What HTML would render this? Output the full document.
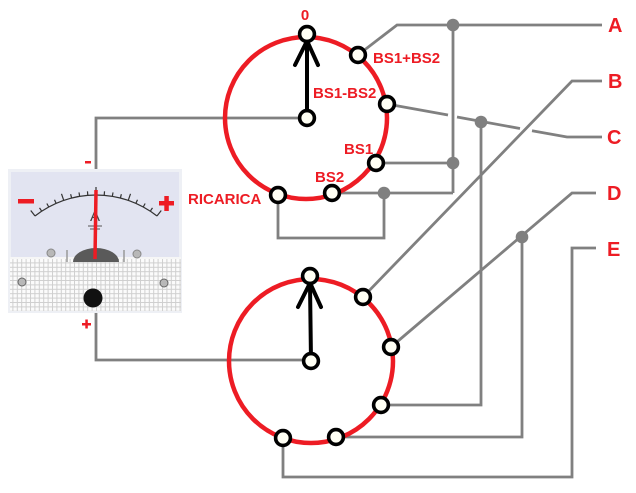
<!DOCTYPE html>
<html>
<head>
<meta charset="utf-8">
<style>
html,body{margin:0;padding:0;background:#fff;}
svg{display:block;}
.lbl{font-family:"Liberation Sans",sans-serif;font-weight:bold;fill:#ed1c24;}
</style>
</head>
<body>
<svg width="636" height="493" viewBox="0 0 636 493" xmlns="http://www.w3.org/2000/svg">
<defs>
<pattern id="grid" x="8" y="258" width="4.4" height="4.4" patternUnits="userSpaceOnUse">
<rect width="4.4" height="4.4" fill="#fbfbfb"/>
<path d="M0 0.5 H4.4 M0.5 0 V4.4" stroke="#cfcfcf" stroke-width="1"/>
</pattern>
</defs>
<rect width="636" height="493" fill="#fff"/>

<!-- wires -->
<g stroke="#808080" stroke-width="2.8" fill="none" stroke-linejoin="miter">
<polyline points="96,170 96,118 299,118"/>
<polyline points="96,312 96,360 303,360"/>
<polyline points="358,55 397,25 602,25"/>
<line x1="453" y1="25" x2="453" y2="193"/>
<line x1="376" y1="163" x2="453" y2="163"/>
<line x1="332" y1="193" x2="453" y2="193"/>
<polyline points="384,193 384,238 278,238 278,195"/>
<line x1="387" y1="104" x2="448" y2="115"/>
<line x1="457" y1="117" x2="520" y2="128.5"/>
<polyline points="532,130.8 567,137 602,137"/>
<polyline points="481,122 481,405 381,405"/>
<polyline points="363,297 572,81 602,81"/>
<polyline points="391,347 572,193 596,193"/>
<polyline points="522,237 522,437 336,437"/>
<polyline points="283,438 283,477 572,477 572,248 596,248"/>
</g>
<g fill="#808080">
<circle cx="453" cy="25" r="6.3"/>
<circle cx="453" cy="163" r="6.3"/>
<circle cx="384" cy="193" r="6.3"/>
<circle cx="481" cy="122" r="6.3"/>
<circle cx="522" cy="237" r="6.3"/>
</g>

<!-- meter -->
<g>
<rect x="8" y="169" width="174" height="144" fill="#eef0f5"/>
<rect x="11" y="172" width="168" height="86" fill="#e2e4f1"/>
<rect x="10" y="258" width="171" height="53" fill="url(#grid)"/>
<rect x="10" y="257" width="171" height="2" fill="#f6f6f6"/>
<path d="M35,216 A99,99 0 0 1 157,216" stroke="#333" stroke-width="1.2" fill="none"/>
<g stroke="#333" stroke-width="1.2">
<line x1="96" y1="195" x2="96" y2="188" transform="rotate(-38 96 294)"/>
<line x1="96" y1="195" x2="96" y2="191" transform="rotate(-33.25 96 294)"/>
<line x1="96" y1="195" x2="96" y2="191" transform="rotate(-28.5 96 294)"/>
<line x1="96" y1="195" x2="96" y2="191" transform="rotate(-23.75 96 294)"/>
<line x1="96" y1="195" x2="96" y2="188" transform="rotate(-19 96 294)"/>
<line x1="96" y1="195" x2="96" y2="191" transform="rotate(-14.25 96 294)"/>
<line x1="96" y1="195" x2="96" y2="191" transform="rotate(-9.5 96 294)"/>
<line x1="96" y1="195" x2="96" y2="191" transform="rotate(-4.75 96 294)"/>
<line x1="96" y1="195" x2="96" y2="187" transform="rotate(0 96 294)"/>
<line x1="96" y1="195" x2="96" y2="191" transform="rotate(4.75 96 294)"/>
<line x1="96" y1="195" x2="96" y2="191" transform="rotate(9.5 96 294)"/>
<line x1="96" y1="195" x2="96" y2="191" transform="rotate(14.25 96 294)"/>
<line x1="96" y1="195" x2="96" y2="188" transform="rotate(19 96 294)"/>
<line x1="96" y1="195" x2="96" y2="191" transform="rotate(23.75 96 294)"/>
<line x1="96" y1="195" x2="96" y2="191" transform="rotate(28.5 96 294)"/>
<line x1="96" y1="195" x2="96" y2="191" transform="rotate(33.25 96 294)"/>
<line x1="96" y1="195" x2="96" y2="188" transform="rotate(38 96 294)"/>
</g>
<text x="95" y="221" font-family="Liberation Sans,sans-serif" font-size="15" fill="#444" text-anchor="middle">A</text>
<line x1="88" y1="226" x2="102" y2="226" stroke="#555" stroke-width="1"/>
<line x1="90" y1="229" x2="100" y2="229" stroke="#555" stroke-width="1"/>
<path d="M73,262 A23,14 0 0 1 119,262 Z" fill="#5a5a5a"/>
<line x1="67" y1="250" x2="67" y2="262" stroke="#999" stroke-width="1.5"/>
<line x1="124" y1="250" x2="124" y2="262" stroke="#999" stroke-width="1.5"/>
<circle cx="51" cy="253" r="4" fill="#b8b8b8" stroke="#888" stroke-width="1"/>
<circle cx="137" cy="254" r="4" fill="#b8b8b8" stroke="#888" stroke-width="1"/>
<circle cx="22" cy="282" r="4" fill="#b8b8b8" stroke="#666" stroke-width="1"/>
<circle cx="164" cy="283" r="4" fill="#b8b8b8" stroke="#666" stroke-width="1"/>
<line x1="96" y1="190" x2="95" y2="259" stroke="#ed1c24" stroke-width="3.5"/>
<circle cx="93" cy="298" r="9.5" fill="#111"/>
<rect x="18" y="199" width="16" height="4.5" fill="#ed1c24"/>
<rect x="159" y="201" width="15" height="4.5" fill="#ed1c24"/>
<rect x="164.3" y="196" width="4.5" height="15" fill="#ed1c24"/>
</g>
<rect x="85" y="161" width="6" height="2.5" fill="#ed1c24"/>
<rect x="82" y="323" width="9" height="2.5" fill="#ed1c24"/>
<rect x="85.3" y="319.5" width="2.5" height="9" fill="#ed1c24"/>

<!-- top switch -->
<circle cx="306" cy="118" r="81" fill="none" stroke="#ed1c24" stroke-width="4.5"/>
<g stroke="#000" stroke-width="4" stroke-linecap="round" fill="none">
<line x1="307" y1="118" x2="307" y2="41"/>
<line x1="306" y1="43" x2="295" y2="65"/>
<line x1="308" y1="43" x2="318" y2="65"/>
</g>
<!-- bottom switch -->
<circle cx="311" cy="361" r="82" fill="none" stroke="#ed1c24" stroke-width="4.5"/>
<g stroke="#000" stroke-width="4" stroke-linecap="round" fill="none">
<line x1="311" y1="361" x2="310" y2="284"/>
<line x1="309" y1="285" x2="298" y2="307"/>
<line x1="311" y1="285" x2="321" y2="307"/>
</g>

<!-- nodes -->
<g fill="#fffff4" stroke="#000" stroke-width="3.6">
<circle cx="307" cy="34" r="7.4"/>
<circle cx="307" cy="118" r="7.4"/>
<circle cx="358" cy="55" r="7.4"/>
<circle cx="387" cy="104" r="7.4"/>
<circle cx="376" cy="163" r="7.4"/>
<circle cx="332" cy="193" r="7.4"/>
<circle cx="278" cy="195" r="7.4"/>
<circle cx="310" cy="276" r="7.4"/>
<circle cx="311" cy="361" r="7.4"/>
<circle cx="363" cy="297" r="7.4"/>
<circle cx="391" cy="347" r="7.4"/>
<circle cx="381" cy="405" r="7.4"/>
<circle cx="336" cy="437" r="7.4"/>
<circle cx="283" cy="438" r="7.4"/>
</g>

<!-- labels -->
<g class="lbl" font-size="15">
<text x="305" y="20" text-anchor="middle">0</text>
<text x="373" y="63">BS1+BS2</text>
<text x="313" y="98">BS1-BS2</text>
<text x="344" y="154">BS1</text>
<text x="315" y="182">BS2</text>
<text x="188" y="204">RICARICA</text>
</g>
<g class="lbl" font-size="20">
<text x="608" y="32">A</text>
<text x="608" y="88">B</text>
<text x="607" y="144">C</text>
<text x="607" y="200">D</text>
<text x="607" y="256">E</text>
</g>
</svg>
</body>
</html>
